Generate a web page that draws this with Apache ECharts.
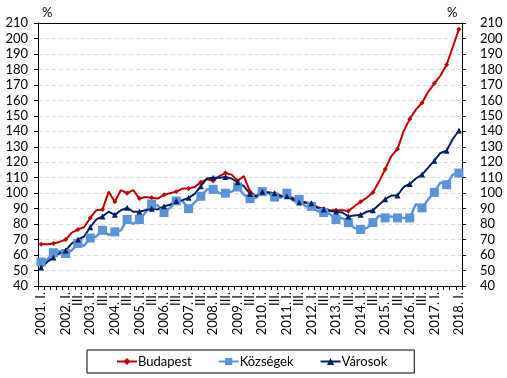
<!DOCTYPE html>
<html>
<head>
<meta charset="utf-8">
<script src="https://cdn.jsdelivr.net/npm/echarts@6/dist/echarts.min.js"></script>
<style>html,body{margin:0;padding:0;background:#fff}#c{width:507px;height:378px}</style>
</head>
<body>
<div id="c"></div>
<script>
var categories = [
 "2001. I.","II.","III.","IV.","2002. I.","II.","III.","IV.","2003. I.","II.","III.","IV.",
 "2004. I.","II.","III.","IV.","2005. I.","II.","III.","IV.","2006. I.","II.","III.","IV.",
 "2007. I.","II.","III.","IV.","2008. I.","II.","III.","IV.","2009. I.","II.","III.","IV.",
 "2010. I.","II.","III.","IV.","2011. I.","II.","III.","IV.","2012. I.","II.","III.","IV.",
 "2013. I.","II.","III.","IV.","2014. I.","II.","III.","IV.","2015. I.","II.","III.","IV.",
 "2016. I.","II.","III.","IV.","2017. I.","II.","III.","IV.","2018. I."
];
var budapest = [
 67,67,67.5,68.5,70,74.5,76.5,78,84,89,89.5,101,
 94.5,102,100,102,96.5,97.5,97,96.5,99,100,101,103,
 103,104,107,109,108,111,113,112,108,111,101,98,
 101,100.5,100,98.5,98,97,95,94,93,91,90,89,
 89,89,88.5,91.5,94.5,97,100.5,107.5,115.5,124,128.5,140,
 148,154,158.5,165.5,171,176,183,194.5,206
];
var kozsegek = [
 55.5,57,61.5,62.5,61,63,67.5,66,71,72,76,73,
 75,76,83,80,83,87.5,93,92,87.5,90.5,95,95,
 90,94,98,102.5,102.5,100,100,101,104,99,96.5,97,
 101,100,97.5,97,100,95,96,91.5,91.5,88.5,87.5,86.5,
 83,84,81,77.5,76.5,77.5,81,85.5,84,85,84,84,
 84,93,90.5,96,100.5,107,105.5,112,113
];
var varosok = [
 52,55.5,58.5,61,63,67.5,70,72,78,83,85,88,
 86,89,90.5,88,88,89,90,89.5,91.5,92.5,95,95.5,
 97,99.5,104.5,109.5,110,110,110.5,109.5,107,104.5,99.5,98,
 101,100.5,100,98,98,96,94,94,93.5,90.5,89.5,88.5,
 88,87.5,85,85.5,86,88,89,92.5,96,98.5,98.5,104,
 106,109.5,112,116.5,121,126,127.5,135,140.5
];
var seriesNames = ["Budapest","Községek","Városok"];
var yMin = 40, yMax = 210, yStep = 10;

var FONT = "Lato";
var chart = echarts.init(document.getElementById('c'), null, {renderer:'canvas'});
function yAxisCfg(pos, margin){
  return {
    type:'value', position:pos, min:yMin, max:yMax, interval:yStep,
    axisLine:{show:true, lineStyle:{color:'#000', width:1}},
    axisTick:{show:true, inside:false, length:4, lineStyle:{color:'#000'}},
    axisLabel:{color:'#000', fontFamily:FONT, fontSize:13, margin:margin},
    splitLine:{show: pos==='left', lineStyle:{color:'#d9d9d9', type:[4,3], width:1}}
  };
}
chart.setOption({
  animation:false,
  backgroundColor:'#fff',
  grid:{left:38, right:45, top:23, bottom:92},
  graphic:[
    {type:'text', left:42, top:6, style:{text:'%', font:'13px Lato', fill:'#000'}},
    {type:'text', left:447, top:6, style:{text:'%', font:'13px Lato', fill:'#000'}}
  ],
  legend:{
    data:seriesNames, bottom:5, left:87,
    orient:'horizontal',
    itemWidth:20, itemHeight:9, itemGap:26,
    padding:[5,27,5,29],
    borderColor:'#000', borderWidth:1,
    textStyle:{color:'#000', fontFamily:FONT, fontSize:13, padding:[0,0,0,-4]}
  },
  xAxis:[{
    type:'category', data:categories, boundaryGap:true, position:'bottom',
    axisLine:{show:true, lineStyle:{color:'#000', width:1}},
    axisTick:{show:true, interval:0, alignWithLabel:false, length:4, lineStyle:{color:'#000'}},
    axisLabel:{interval:1, rotate:90, color:'#000', fontFamily:FONT, fontSize:13, margin:6,
      lineHeight:12, hideOverlap:false, showMinLabel:true, showMaxLabel:true},
    splitLine:{show:false}
  },{
    type:'category', data:categories, position:'top',
    axisLine:{show:true, lineStyle:{color:'#000', width:1}},
    axisTick:{show:false}, axisLabel:{show:false}, splitLine:{show:false}
  }],
  yAxis:[yAxisCfg('left',10), yAxisCfg('right',18)],
  series:[
    {name:seriesNames[0], type:'line', data:budapest, symbol:'diamond', symbolSize:5,
     itemStyle:{color:'#C00000'}, lineStyle:{color:'#C00000', width:2}},
    {name:seriesNames[1], type:'line', data:kozsegek, symbol:'rect', symbolSize:9,
     itemStyle:{color:'#5B93D8'}, lineStyle:{color:'#5B93D8', width:2.5}},
    {name:seriesNames[2], type:'line', data:varosok, symbol:'triangle', symbolSize:6,
     itemStyle:{color:'#002060'}, lineStyle:{color:'#002060', width:2}}
  ]
});
</script>
</body>
</html>
